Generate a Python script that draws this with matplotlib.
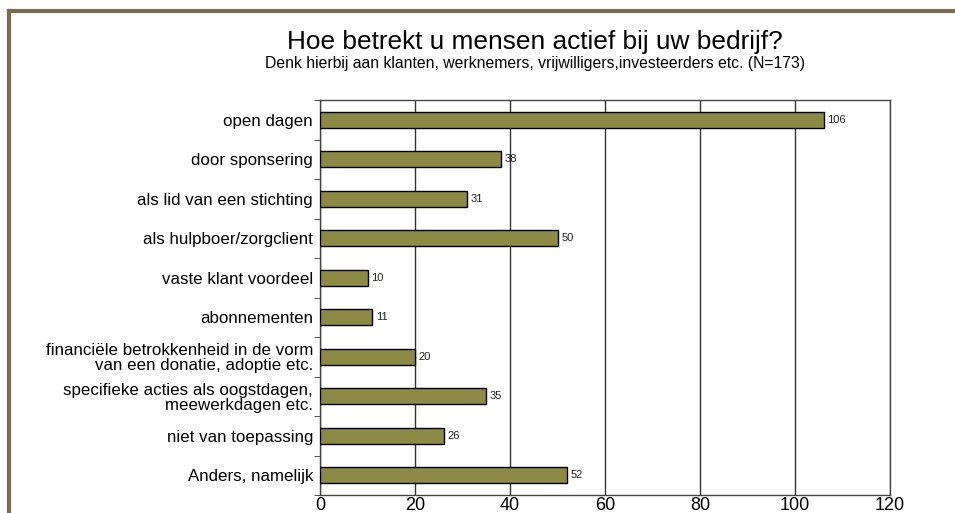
import numpy as np
import matplotlib.pyplot as plt

categories = ['open dagen', 'door sponsering', 'als lid van een stichting',
              'als hulpboer/zorgclient', 'vaste klant voordeel', 'abonnementen',
              'financiële betrokkenheid in de vorm\nvan een donatie, adoptie etc.',
              'specifieke acties als oogstdagen,\nmeewerkdagen etc.',
              'niet van toepassing', 'Anders, namelijk']
counts = [106, 38, 31, 50, 10, 11, 20, 35, 26, 52]
xticks = [0, 20, 40, 60, 80, 100, 120]

plt.rcParams['font.family'] = ['Liberation Sans', 'DejaVu Sans']

fig = plt.figure(figsize=(9.55, 5.13), dpi=100)
ax = fig.add_axes([320/955, 1 - 495/513, 570/955, 395/513])

y = np.arange(len(categories))
ax.barh(y, counts, height=0.4, color='#8c8a45', edgecolor='black', linewidth=1, zorder=3)
for yi, v in zip(y, counts):
    ax.text(v + 0.8, yi, str(v), va='center', ha='left', fontsize=8, color='#222222')

ax.set_ylim(len(categories) - 0.5, -0.5)
ax.set_xlim(0, 120)
ax.set_xticks(xticks)
ax.tick_params(axis='x', length=0, labelsize=13, pad=1.5)
ax.set_yticks(y)
ax.set_yticklabels(categories, fontsize=12.2, linespacing=1.0)
ax.tick_params(axis='y', length=0, pad=5)
ax.set_yticks(np.arange(-0.5, len(categories)), minor=True)
ax.tick_params(axis='y', which='minor', length=4, color='#333333')
ax.grid(axis='x', color='#333333', linewidth=1, zorder=0)
for s in ax.spines.values():
    s.set_color('#444444')
    s.set_linewidth(1)

fig.text(535/955, 1 - 49/513, 'Hoe betrekt u mensen actief bij uw bedrijf?', ha='center', va='baseline', fontsize=18.9)
fig.text(535/955, 1 - 68/513, 'Denk hierbij aan klanten, werknemers, vrijwilligers,investeerders etc. (N=173)',
         ha='center', va='baseline', fontsize=11.3)

# border frame (top and left)
fig.add_artist(plt.Line2D([9/955, 1], [1 - 11/513, 1 - 11/513], color='#7a6a52', linewidth=3))
fig.add_artist(plt.Line2D([9/955, 9/955], [0, 1 - 11/513], color='#7a6a52', linewidth=3))

fig.savefig('out.png', dpi=100)
